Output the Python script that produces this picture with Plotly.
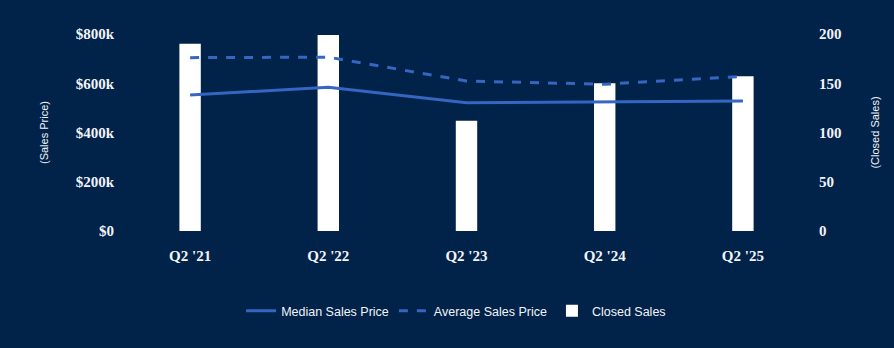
import plotly.graph_objects as go

quarters = ["Q2 '21", "Q2 '22", "Q2 '23", "Q2 '24", "Q2 '25"]
median_price = [552000, 584000, 521000, 523000, 528000]
average_price = [704000, 706000, 609000, 596000, 628000]
closed_sales = [190, 199, 112, 150, 157]

price_ticks = [0, 200000, 400000, 600000, 800000]
price_labels = ["$0", "$200k", "$400k", "$600k", "$800k"]
sales_ticks = [0, 50, 100, 150, 200]

BG = "#012249"
LINE = "#3466C2"
TEXT = "#F2F4F8"
SERIF = "Liberation Serif"
SANS = "Liberation Sans, Arial, sans-serif"

fig = go.Figure()

# Closed sales bars sit on the right-hand axis, underneath the price lines
fig.add_trace(go.Bar(
    x=quarters, y=closed_sales, name="Closed Sales",
    marker=dict(color="#FFFFFF", line=dict(width=0)),
    width=0.155, yaxis="y", legendrank=3,
))
fig.add_trace(go.Scatter(
    x=quarters, y=median_price, name="Median Sales Price", mode="lines",
    line=dict(color=LINE, width=3), yaxis="y2", legendrank=1,
))
fig.add_trace(go.Scatter(
    x=quarters, y=average_price, name="Average Sales Price", mode="lines",
    line=dict(color=LINE, width=3, dash="dash"), yaxis="y2", legendrank=2,
))

fig.update_layout(
    width=894, height=348,
    paper_bgcolor=BG, plot_bgcolor=BG,
    margin=dict(l=121, r=82, t=34, b=117),
    showlegend=True,
    legend=dict(
        orientation="h", x=0.485, xanchor="center", y=-0.33, yanchor="top",
        font=dict(family=SANS, size=12.5, color=TEXT),
        bgcolor="rgba(0,0,0,0)", itemwidth=30,
    ),
    xaxis=dict(
        type="category", showgrid=False, zeroline=False, showline=False,
        ticks="", tickfont=dict(family=SERIF, size=15, color=TEXT, weight="bold"),
        ticklabelstandoff=14,
    ),
    yaxis=dict(
        side="right", range=[0, 200], tickvals=sales_ticks,
        showgrid=False, zeroline=False, showline=False, ticks="",
        tickfont=dict(family=SERIF, size=15, color=TEXT, weight="bold"),
        title=dict(text="(Closed Sales)", font=dict(family=SANS, size=11, color=TEXT), standoff=30),
        ticklabelstandoff=6,
    ),
    yaxis2=dict(
        side="left", overlaying="y", range=[0, 800000],
        tickvals=price_ticks, ticktext=price_labels,
        showgrid=False, zeroline=False, showline=False, ticks="",
        tickfont=dict(family=SERIF, size=15, color=TEXT, weight="bold"),
        title=dict(text="(Sales Price)", font=dict(family=SANS, size=11, color=TEXT), standoff=24),
        ticklabelstandoff=6,
    ),
)

fig.write_html("out.html")
